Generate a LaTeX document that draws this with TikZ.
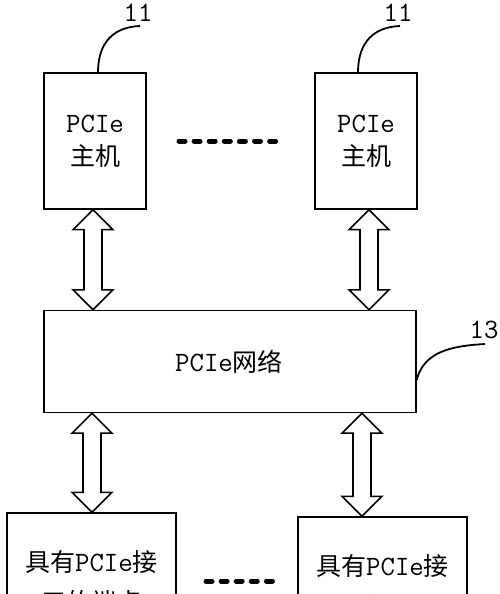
\documentclass[tikz,border=0pt]{standalone}
\usepackage{fontspec}
\newfontfamily\cjk{Noto Sans CJK SC}
\newcommand\lat[1]{{\ttfamily\fontsize{28}{28}\selectfont #1}}
\usetikzlibrary{calc}
\newcommand\dblarr[2]{%
  \draw[arrowline] let \p1=(#1), \p2=(#2) in
    (\x1,\y1) -- (\x1+20pt,\y1-20pt) -- (\x1+9pt,\y1-20pt) -- (\x1+9pt,\y2+20pt)
    -- (\x1+20pt,\y2+20pt) -- (\x1,\y2) -- (\x1-20pt,\y2+20pt) -- (\x1-9pt,\y2+20pt)
    -- (\x1-9pt,\y1-20pt) -- (\x1-20pt,\y1-20pt) -- cycle;}
\begin{document}
\begin{tikzpicture}[x=1pt,y=-1pt,
  box/.style={draw,line width=1.3pt,inner sep=0pt,fill=white},
  arrowline/.style={draw,line width=1.6pt,line join=miter,fill=white},
  leader/.style={line width=1.8pt},
  numlbl/.style={inner sep=0pt,font=\ttfamily\fontsize{28}{28}\selectfont},
  txt/.style={inner sep=0pt,align=center},
  dots/.style={line width=5pt,line cap=round,dash pattern=on 6pt off 9.1pt}]
\useasboundingbox (0,0) rectangle (500,594);
\clip (0,0) rectangle (500,594);
% boxes
\node[box,minimum width=102pt,minimum height=136pt] (h1) at (95,141) {};
\node[box,minimum width=102pt,minimum height=136pt] (h2) at (366,141) {};
\node[box,minimum width=372pt,minimum height=102pt] (net) at (230,361.5) {};
\node[box,minimum width=169pt,minimum height=136pt] (bl) at (91.5,581) {};
\node[box,minimum width=169pt,minimum height=136pt] (br) at (382.5,585) {};
% texts
\node[txt,font=\fontsize{25}{33}\selectfont] (h1t) at (h1.center) {\lat{PCIe}\\{\cjk 主机}};
\node[txt,font=\fontsize{25}{33}\selectfont] (h2t) at (h2.center) {\lat{PCIe}\\{\cjk 主机}};
\node[txt,font=\fontsize{25}{30}\selectfont] (nett) at (229,362) {\lat{PCIe}{\cjk 网络}};
\node[txt,font=\fontsize{25}{40}\selectfont] (blt) at (91.5,582) {{\cjk 具有}\lat{PCIe}{\cjk 接}\\{\cjk 口的端点}};
\node[txt,font=\fontsize{25}{40}\selectfont] (brt) at (382.5,586) {{\cjk 具有}\lat{PCIe}{\cjk 接}\\{\cjk 口的端点}};
% labels
\node[numlbl] (l1) at (138,13) {11};
\node[numlbl] (l2) at (398,13) {11};
\node[numlbl] (l3) at (484,330) {13};
\coordinate (l1e) at (140,26);
\coordinate (l2e) at (400,26);
\coordinate (l3e) at (485,344);
\draw[leader] (h1.north -| 98,0) .. controls (98,42) and (114,27) .. (l1e);
\draw[leader] (h2.north -| 358,0) .. controls (358,42) and (374,27) .. (l2e);
\draw[leader] (net.east |- 0,380) .. controls (424,352) and (450,346) .. (l3e);
% arrows
\dblarr{h1.south -| 93,0}{net.north -| 93,0}
\dblarr{h2.south -| 369,0}{net.north -| 369,0}
\dblarr{net.south -| 92,0}{bl.north -| 92,0}
\dblarr{net.south -| 362,0}{br.north -| 362,0}
% dots
\draw[dots] (179,141) -- (282,141);
\draw[dots] (206,581) -- (277,581);
\end{tikzpicture}
\end{document}
